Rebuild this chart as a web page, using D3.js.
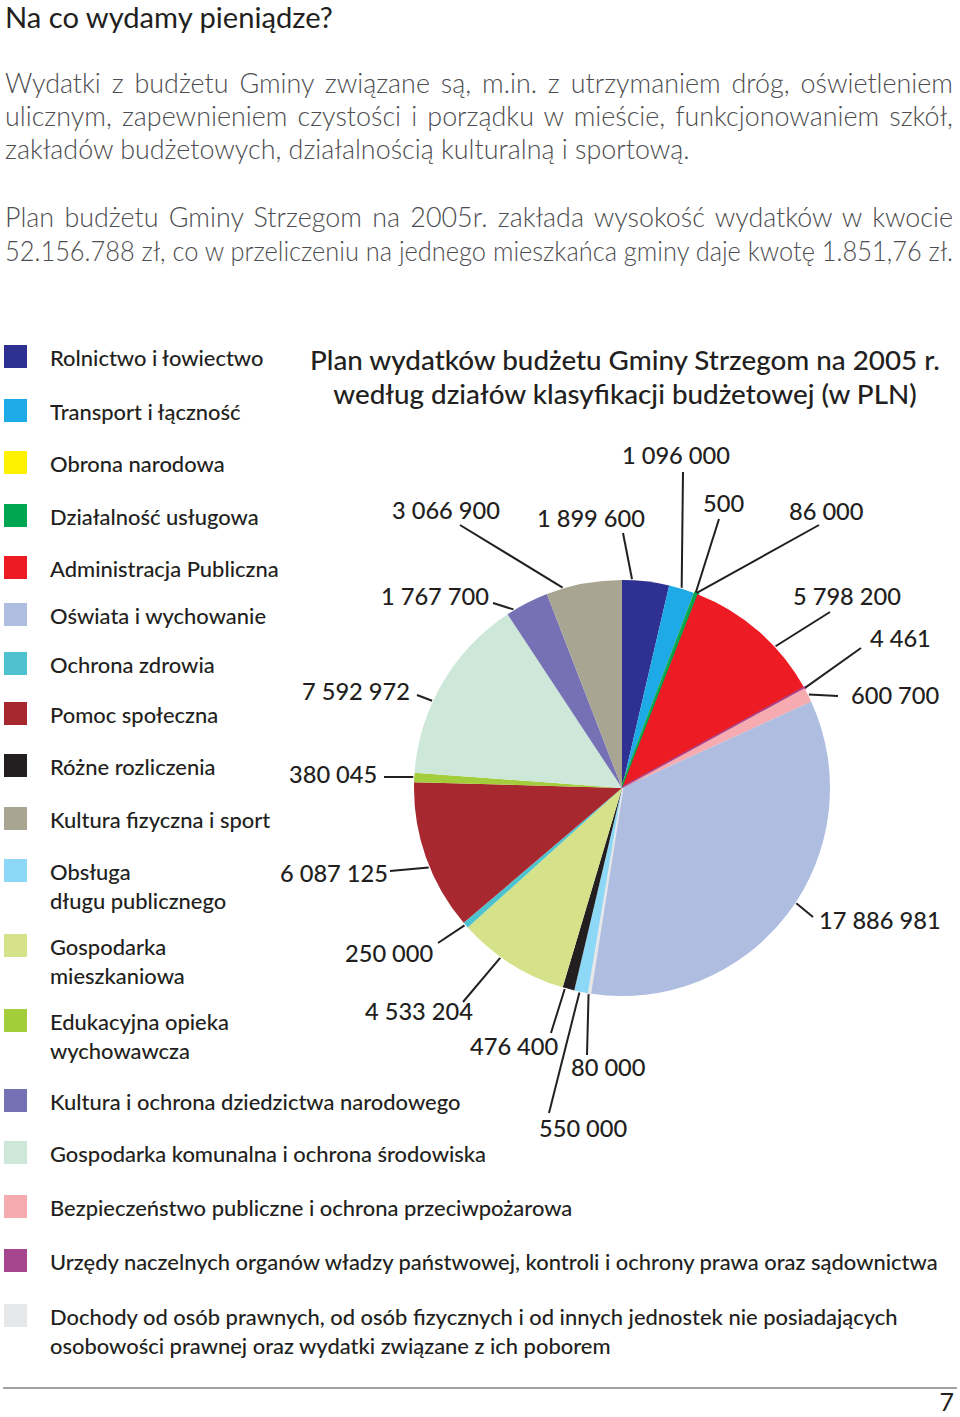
<!DOCTYPE html>
<html><head><meta charset="utf-8">
<script src="https://cdn.jsdelivr.net/npm/d3@7"></script>
<style>body{margin:0;background:#fff}svg{display:block}</style>
</head><body><svg id="c" width="960" height="1417"></svg>
<script>
// ---------------- DATA ----------------
const categories = [
  "Rolnictwo i łowiectwo",
  "Transport i łączność",
  "Obrona narodowa",
  "Działalność usługowa",
  "Administracja Publiczna",
  "Oświata i wychowanie",
  "Ochrona zdrowia",
  "Pomoc społeczna",
  "Różne rozliczenia",
  "Kultura fizyczna i sport",
  "Obsługa\ndługu publicznego",
  "Gospodarka\nmieszkaniowa",
  "Edukacyjna opieka\nwychowawcza",
  "Kultura i ochrona dziedzictwa narodowego",
  "Gospodarka komunalna i ochrona środowiska",
  "Bezpieczeństwo publiczne i ochrona przeciwpożarowa",
  "Urzędy naczelnych organów władzy państwowej, kontroli i ochrony prawa oraz sądownictwa",
  "Dochody od osób prawnych, od osób fizycznych i od innych jednostek nie posiadających\nosobowości prawnej oraz wydatki związane z ich poborem"
];
const values = [1899600, 1096000, 500, 86000, 5798200, 17886981, 250000, 6087125, 476400,
                3066900, 550000, 4533204, 380045, 1767700, 7592972, 600700, 4461, 80000];
const colors = ["#2e3192", "#1eaae7", "#fff200", "#00a651", "#ed1c24", "#aebde0", "#4ec3cf",
                "#a8282f", "#231f20", "#a8a593", "#8dd7f7", "#d5e28a", "#a3cd3b", "#7571b4",
                "#cde8d9", "#f6abb1", "#a6468e", "#e6e7e8"];
// order of slices clockwise from 12 o'clock (indices into categories)
const pieOrder = [0, 1, 2, 3, 4, 16, 15, 5, 17, 10, 8, 11, 6, 7, 12, 14, 13, 9];

const heading = "Na co wydamy pieniądze?";
const paragraphs = [
  ["Wydatki z budżetu Gminy związane są, m.in. z utrzymaniem dróg, oświetleniem",
   "ulicznym, zapewnieniem czystości i porządku w mieście, funkcjonowaniem szkół,",
   "zakładów budżetowych, działalnością kulturalną i sportową."],
  ["Plan budżetu Gminy Strzegom na 2005r. zakłada wysokość wydatków w kwocie",
   "52.156.788 zł, co w przeliczeniu na jednego mieszkańca gminy daje kwotę 1.851,76 zł."]
];
const chartTitle = ["Plan wydatków budżetu Gminy Strzegom na 2005 r.",
                    "według działów klasyfikacji budżetowej (w PLN)"];
const pageNumber = "7";

// ---------------- LAYOUT ----------------
const FONT = "Lato, 'Open Sans', 'DejaVu Sans', sans-serif";
const cx = 622, cy = 788, R = 208;
const legendBaselines = [366, 420, 472, 525, 577, 624, 673, 723, 775, 828, 880, 955, 1030, 1110, 1162, 1216, 1270, 1325];
const legendLineH = 29;
// label anchor (text start x, baseline y), leader outer end, attach fraction in slice
const labelLayout = {
  0: {tx: 537, ty: 527, lx: 623, ly: 533, t: 0.21},
  1: {tx: 622, ty: 464, lx: 683, ly: 472, t: 0.46},
  2: {tx: 703, ty: 512, lx: 719, ly: 519, t: 0.5},
  3: {tx: 789, ty: 520, lx: 819, ly: 525, t: 0.5},
  4: {tx: 793, ty: 605, lx: 830, ly: 612, t: 0.65},
  16: {tx: 870, ty: 647, lx: 861, ly: 648, t: 0.5},
  15: {tx: 851, ty: 704, lx: 838, ly: 696, t: 0.5},
  5: {tx: 819, ty: 929, lx: 813, ly: 917, t: 0.47},
  17: {tx: 571, ty: 1076, lx: 587, ly: 1055, t: 0.5},
  10: {tx: 539, ty: 1137, lx: 549, ly: 1113, t: 0.6},
  8: {tx: 470, ty: 1055, lx: 551, ly: 1033, t: 0.8},
  11: {tx: 365, ty: 1020, lx: 463, ly: 1002, t: 0.61},
  6: {tx: 345, ty: 962, lx: 438, ly: 943, t: 0.6},
  7: {tx: 280, ty: 882, lx: 390, ly: 871, t: 0.43},
  12: {tx: 289, ty: 783, lx: 384, ly: 777, t: 0.53},
  14: {tx: 302, ty: 700, lx: 417, ly: 695, t: 0.39},
  13: {tx: 381, ty: 605, lx: 493, ly: 603, t: 0.17},
  9: {tx: 392, ty: 519, lx: 460, ly: 525, t: 0.22}
};

const svg = d3.select("#c");
const fmt = d3.formatLocale({decimal: ",", thousands: " ", grouping: [3], currency: ["", ""]}).format(",d");

function fitFont(sel, refNode, target, base) {
  sel.attr("font-size", base);
  const w = refNode.getComputedTextLength();
  const fs = base * target / w;
  sel.attr("font-size", fs);
  return fs;
}
function justify(textSel, target) {
  const node = textSel.node();
  const str = textSel.text();
  const spaces = (str.match(/ /g) || []).length;
  const w = node.getComputedTextLength();
  if (w < target && spaces) textSel.attr("word-spacing", (target - w) / spaces);
  else if (w > target) textSel.attr("textLength", target).attr("lengthAdjust", "spacingAndGlyphs");
}

// ---------------- TOP TEXT ----------------
const hd = svg.append("text").attr("x", 5).attr("y", 28).attr("font-family", FONT)
  .attr("font-weight", 400).attr("fill", "#231f20").text(heading);
fitFont(hd, hd.node(), 328, 26);

const paraBase = [[93, 126, 159], [227, 261]];
const paraG = svg.append("g").attr("font-family", FONT).attr("font-weight", 300).attr("fill", "#4d4d4f");
const pTexts = [];
paragraphs.forEach((lines, pi) => lines.forEach((ln, li) => {
  const t = paraG.append("text").attr("x", 5).attr("y", paraBase[pi][li]).text(ln);
  pTexts.push({t, pi, li, n: lines.length});
}));
fitFont(paraG.selectAll("text"), pTexts[2].t.node(), 685, 26);
pTexts.forEach(({t, pi, li, n}) => {
  if (pi === 0 && li === n - 1) return;
  justify(t, 948);
});

// ---------------- LEGEND ----------------
const lg = svg.append("g").attr("font-family", FONT).attr("font-weight", 500).attr("fill", "#231f20");
categories.forEach((c, i) => {
  const y = legendBaselines[i];
  lg.append("rect").attr("x", 4).attr("y", y - 21).attr("width", 23).attr("height", 23).attr("fill", colors[i]);
  const tx = lg.append("text").attr("x", 50).attr("y", y);
  c.split("\n").forEach((s, k) => tx.append("tspan").attr("x", 50).attr("y", y + k * legendLineH).text(s));
});
const refLeg = lg.selectAll("text").filter((d, i) => i === 16).select("tspan").node();
fitFont(lg.selectAll("text"), refLeg, 888, 20);

// ---------------- CHART TITLE ----------------
const tg = svg.append("g").attr("font-family", FONT).attr("font-weight", 500).attr("fill", "#231f20").attr("text-anchor", "middle");
chartTitle.forEach((s, i) => tg.append("text").attr("x", 625).attr("y", 370 + i * 34).text(s));
fitFont(tg.selectAll("text"), tg.select("text").node(), 630, 24);

// ---------------- PIE ----------------
const pie = d3.pie().value(i => values[i]).sort(null);
const arcs = pie(pieOrder);
const arc = d3.arc().innerRadius(0).outerRadius(R);
const pg = svg.append("g").attr("transform", `translate(${cx},${cy})`);
pg.selectAll("path").data(arcs).join("path")
  .attr("d", arc)
  .attr("fill", d => colors[d.data])
  .attr("stroke", d => (d.endAngle - d.startAngle) < 0.02 ? colors[d.data] : "none")
  .attr("stroke-width", 3)
  .attr("stroke-linejoin", "miter");

// leaders and value labels
const lab = svg.append("g").attr("font-family", FONT).attr("font-weight", 500).attr("fill", "#231f20");
arcs.forEach(d => {
  const L = labelLayout[d.data];
  const a = d.startAngle + (d.endAngle - d.startAngle) * L.t;
  const px = cx + Math.sin(a) * (R + 1), py = cy - Math.cos(a) * (R + 1);
  svg.append("line").attr("x1", px).attr("y1", py).attr("x2", L.lx).attr("y2", L.ly)
    .attr("stroke", "#231f20").attr("stroke-width", 2);
  lab.append("text").attr("x", L.tx).attr("y", L.ty).text(fmt(values[d.data]));
});
const refLab = lab.selectAll("text").filter((d, i) => i === 4).node();
fitFont(lab.selectAll("text"), refLab, 108, 23);

// ---------------- FOOTER ----------------
svg.append("line").attr("x1", 3).attr("x2", 957).attr("y1", 1388).attr("y2", 1388)
  .attr("stroke", "#808285").attr("stroke-width", 1.5);
svg.append("text").attr("x", 954).attr("y", 1411).attr("text-anchor", "end")
  .attr("font-family", FONT).attr("font-size", 25).attr("fill", "#231f20").text(pageNumber);
</script></body></html>
